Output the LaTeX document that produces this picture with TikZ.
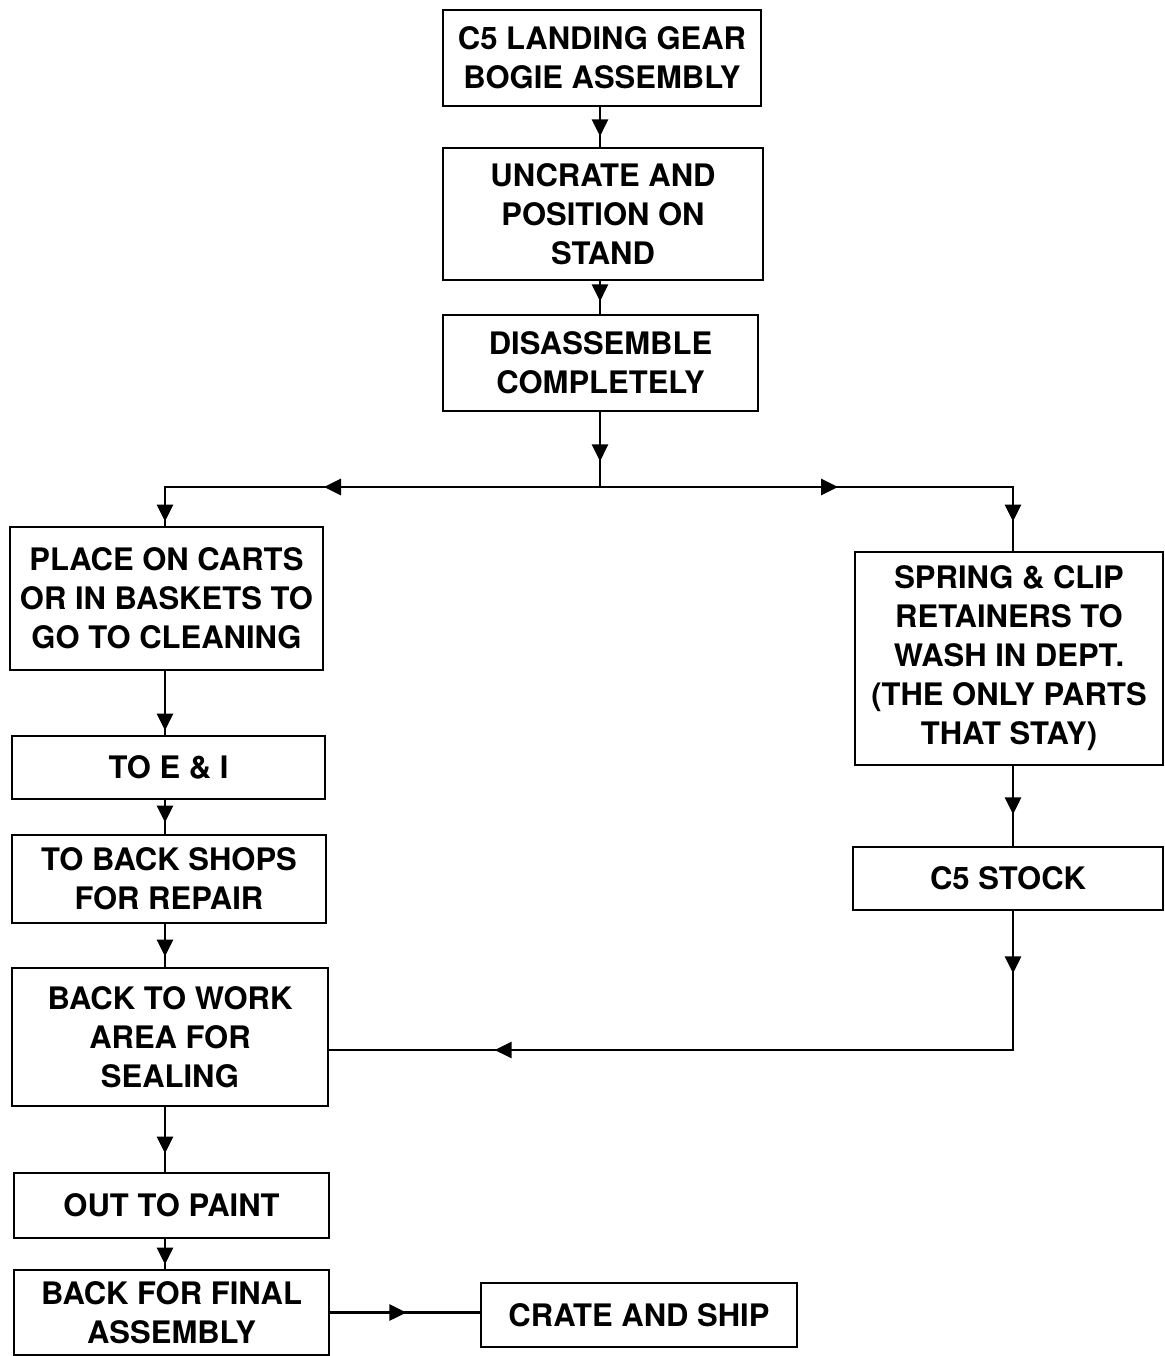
\documentclass[tikz,border=0pt]{standalone}
\usepackage{fontspec}
\setmainfont{TeX Gyre Heros}
\usetikzlibrary{arrows.meta,decorations.markings}
\tikzset{
  box/.style={draw, line width=2.8pt, align=center, inner sep=0pt,
    font=\fontsize{31}{39}\selectfont\bfseries},
  conn/.style={line width=2.8pt},
  tipat/.style={postaction={decorate,decoration={markings,
    mark=at position #1 with {\arrow{Triangle[length=17pt,width=16pt]}}}}},
}
\begin{document}
\begin{tikzpicture}[x=1pt,y=-1pt]
\useasboundingbox (0,0) rectangle (1164,1356);
\fill[white] (0,0) rectangle (1164,1356);

% boxes
\node[box, minimum width=318pt, minimum height=96pt] (b1) at (602,58) {C5 LANDING GEAR\\BOGIE ASSEMBLY};
\node[box, minimum width=320pt, minimum height=132pt] (b2) at (603,214) {UNCRATE AND\\POSITION ON\\STAND};
\node[box, minimum width=315pt, minimum height=96pt] (b3) at (600.5,363) {DISASSEMBLE\\COMPLETELY};
\node[box, minimum width=313pt, minimum height=143pt] (b4) at (166.5,598.5) {PLACE ON CARTS\\OR IN BASKETS TO\\GO TO CLEANING};
\node[box, minimum width=313pt, minimum height=63pt] (b5) at (168.5,767.5) {TO E \& I};
\node[box, minimum width=314pt, minimum height=88pt] (b6) at (169,879) {TO BACK SHOPS\\FOR REPAIR};
\node[box, minimum width=316pt, minimum height=138pt] (b7) at (170,1037) {BACK TO WORK\\AREA FOR\\SEALING};
\node[box, minimum width=315pt, minimum height=65pt] (b8) at (171.5,1205.5) {OUT TO PAINT};
\node[box, minimum width=315pt, minimum height=85pt] (b9) at (171.5,1312.5) {BACK FOR FINAL\\ASSEMBLY};
\node[box, minimum width=316pt, minimum height=64pt] (b10) at (639,1315) {CRATE AND SHIP};
\node[box, minimum width=308pt, minimum height=213pt] (b11) at (1009,658.5) {SPRING \& CLIP\\RETAINERS TO\\WASH IN DEPT.\\(THE ONLY PARTS\\THAT STAY)};
\node[box, minimum width=310pt, minimum height=63pt] (b12) at (1008,878.5) {C5 STOCK};

% routing points
\coordinate (split) at (600,487);
\coordinate (lc) at (165,487);
\coordinate (rc) at (1013,487);
\coordinate (bc) at (1013,1050);

% connectors
\draw[conn, tipat=29pt] (split |- b1.south) -- (split |- b2.north);
\draw[conn, tipat=20pt] (split |- b2.south) -- (split |- b3.north);
\draw[conn, tipat=49pt] (split |- b3.south) -- (split);
\draw[conn, tipat=276pt, tipat=-4pt] (split) -- (lc) -- (lc |- b4.north);
\draw[conn, tipat=238pt, tipat=-29pt] (split) -- (rc) -- (rc |- b11.north);
\draw[conn, tipat=-4pt] (lc |- b4.south) -- (lc |- b5.north);
\draw[conn, tipat=-11pt] (lc |- b5.south) -- (lc |- b6.north);
\draw[conn, tipat=-10pt] (lc |- b6.south) -- (lc |- b7.north);
\draw[conn, tipat=-18pt] (lc |- b7.south) -- (lc |- b8.north);
\draw[conn, tipat=-4pt] (lc |- b8.south) -- (lc |- b9.north);
\draw[conn, tipat=76pt] (b9.east) -- (b9.east -| b10.west);
\draw[conn, tipat=48pt] (rc |- b11.south) -- (rc |- b12.north);
\draw[conn, tipat=62pt, tipat=657pt] (rc |- b12.south) -- (bc) -- (bc -| b7.east);
\end{tikzpicture}
\end{document}
